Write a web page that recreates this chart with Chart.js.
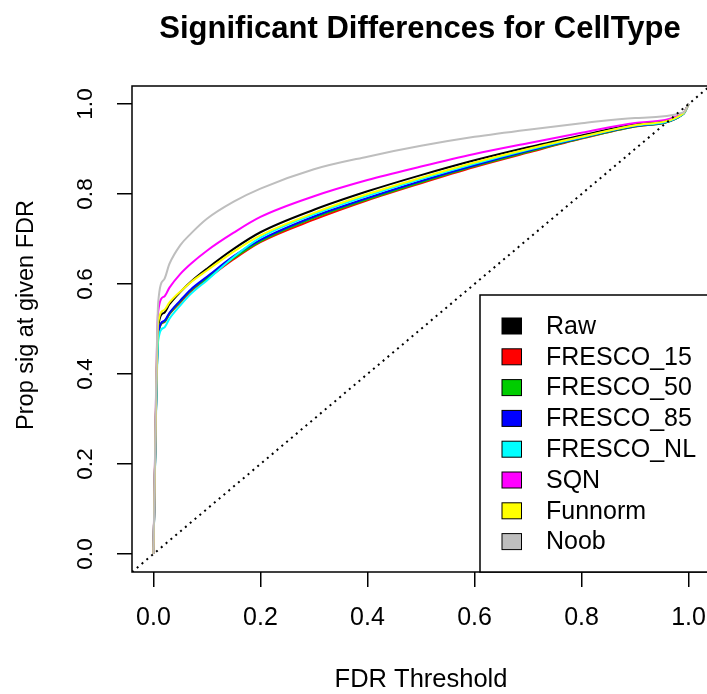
<!DOCTYPE html>
<html>
<head>
<meta charset="utf-8">
<script src="https://cdn.jsdelivr.net/npm/chart.js@4"></script>
<style>
  html, body { margin: 0; padding: 0; background: #fff; overflow: hidden; }
  #wrap { position: relative; width: 710px; height: 694px; }
</style>
</head>
<body>
<div id="wrap"><canvas id="sigChart"></canvas></div>
<script>
// FDR thresholds (x) and proportion significant (y) for each method
const fdrThreshold = [0, 0.009, 0.02, 0.03, 0.05, 0.07, 0.1, 0.15, 0.2, 0.3, 0.4, 0.5, 0.6, 0.7, 0.8, 0.9, 0.99, 1.0];
const raw       = [0, 0.505, 0.536, 0.555, 0.582, 0.605, 0.634, 0.678, 0.715, 0.765, 0.806, 0.842, 0.875, 0.904, 0.930, 0.955, 0.979, 1.0];
const fresco15  = [0, 0.490, 0.515, 0.533, 0.559, 0.584, 0.611, 0.655, 0.693, 0.743, 0.786, 0.824, 0.860, 0.892, 0.923, 0.950, 0.978, 1.0];
const fresco50  = [0, 0.490, 0.516, 0.534, 0.561, 0.586, 0.613, 0.658, 0.695, 0.747, 0.788, 0.826, 0.862, 0.894, 0.924, 0.950, 0.978, 1.0];
const fresco85  = [0, 0.490, 0.518, 0.536, 0.563, 0.588, 0.616, 0.662, 0.698, 0.750, 0.791, 0.829, 0.864, 0.896, 0.925, 0.951, 0.978, 1.0];
const frescoNL  = [0, 0.475, 0.503, 0.523, 0.552, 0.578, 0.608, 0.660, 0.703, 0.755, 0.796, 0.833, 0.867, 0.898, 0.926, 0.952, 0.978, 1.0];
const sqn       = [0, 0.540, 0.572, 0.592, 0.622, 0.645, 0.674, 0.714, 0.749, 0.795, 0.831, 0.861, 0.889, 0.913, 0.936, 0.958, 0.980, 1.0];
const funnorm   = [0, 0.515, 0.542, 0.559, 0.583, 0.604, 0.630, 0.672, 0.708, 0.758, 0.800, 0.836, 0.870, 0.900, 0.927, 0.953, 0.979, 1.0];
const noob      = [0, 0.560, 0.610, 0.645, 0.686, 0.712, 0.745, 0.783, 0.812, 0.855, 0.883, 0.907, 0.927, 0.943, 0.957, 0.969, 0.981, 1.0];

const methodNames  = ['Raw', 'FRESCO_15', 'FRESCO_50', 'FRESCO_85', 'FRESCO_NL', 'SQN', 'Funnorm', 'Noob'];
const methodColors = ['#000000', '#FF0000', '#00CD00', '#0000FF', '#00FFFF', '#FF00FF', '#FFFF00', '#BEBEBE'];
const methodValues = [raw, fresco15, fresco50, fresco85, frescoNL, sqn, funnorm, noob];

const xTicks = [0, 0.2, 0.4, 0.6, 0.8, 1.0];
const yTicks = [0, 0.2, 0.4, 0.6, 0.8, 1.0];
const axisRange = [-0.04, 1.04];

const chartTitle = 'Significant Differences for CellType';
const xTitle = 'FDR Threshold';
const yTitle = 'Prop sig at given FDR';

const FONT = '"Liberation Sans", Arial, Helvetica, sans-serif';
Chart.defaults.font.family = FONT;
Chart.defaults.color = '#000';

const datasets = methodNames.map((name, i) => ({
    label: name,
    data: fdrThreshold.map((x, j) => ({ x: x, y: methodValues[i][j] })),
    borderColor: methodColors[i],
    backgroundColor: methodColors[i],
    borderWidth: 2,
    pointRadius: 0,
    fill: false,
    cubicInterpolationMode: 'monotone',
    order: methodNames.length - i
}));

// y = x reference line
datasets.push({
    label: 'diagonal',
    data: [{ x: axisRange[0], y: axisRange[0] }, { x: axisRange[1], y: axisRange[1] }],
    borderColor: '#000',
    borderWidth: 2,
    borderDash: [2, 4.3],
    pointRadius: 0,
    fill: false,
    order: 0
});

const rPlotDecor = {
    id: 'rPlotDecor',
    afterDatasetsDraw(chart) {
        const { ctx, chartArea: a } = chart;
        ctx.save();
        ctx.strokeStyle = '#000';
        ctx.lineWidth = 1.5;
        ctx.strokeRect(a.left, a.top, a.right - a.left, a.bottom - a.top);
        ctx.restore();
    },
    afterDraw(chart) {
        const { ctx, chartArea: a, scales } = chart;
        const cx = (a.left + a.right) / 2;
        ctx.save();
        ctx.fillStyle = '#000';
        ctx.textAlign = 'center';
        ctx.textBaseline = 'middle';

        // title
        ctx.font = 'bold 31px ' + FONT;
        ctx.fillText(chartTitle, 420, 29);

        // x title
        ctx.font = '25.5px ' + FONT;
        ctx.fillText(xTitle, 421, 680);

        // y title
        ctx.save();
        ctx.font = '23.5px ' + FONT;
        ctx.translate(27, 315);
        ctx.rotate(-Math.PI / 2);
        ctx.fillText(yTitle, 0, 0);
        ctx.restore();

        // y tick labels (rotated, as in R)
        ctx.font = '22.5px ' + FONT;
        scales.y.ticks.forEach(t => {
            ctx.save();
            ctx.translate(86, scales.y.getPixelForValue(t.value));
            ctx.rotate(-Math.PI / 2);
            ctx.fillText(t.value.toFixed(1), 0, 0);
            ctx.restore();
        });

        // legend, bottom right
        const lx = 480, ly = 295;
        ctx.fillStyle = '#fff';
        ctx.fillRect(lx, ly, a.right - lx, a.bottom - ly);
        ctx.strokeStyle = '#000';
        ctx.lineWidth = 1.5;
        ctx.strokeRect(lx, ly, a.right - lx, a.bottom - ly);
        ctx.textAlign = 'left';
        ctx.font = '25px ' + FONT;
        methodNames.forEach((name, i) => {
            const yc = 326 + i * 30.8;
            ctx.fillStyle = methodColors[i];
            ctx.fillRect(502, yc - 8, 19.5, 16);
            ctx.lineWidth = 1;
            ctx.strokeStyle = '#000';
            ctx.strokeRect(502, yc - 8, 19.5, 16);
            ctx.fillStyle = '#000';
            ctx.fillText(name, 546, yc + 1);
        });
        ctx.restore();
    }
};

new Chart(document.getElementById('sigChart').getContext('2d'), {
    type: 'line',
    data: { datasets: datasets },
    options: {
        responsive: true,
        maintainAspectRatio: false,
        animation: false,
        layout: { autoPadding: false, padding: { top: 86, right: 0, left: 0, bottom: 0 } },
        plugins: {
            legend: { display: false },
            tooltip: { enabled: false },
            title: { display: false }
        },
        scales: {
            x: {
                type: 'linear',
                min: axisRange[0],
                max: axisRange[1],
                afterBuildTicks: s => { s.ticks = xTicks.map(v => ({ value: v })); },
                afterFit: s => { s.height = 122; s.paddingLeft = 0; s.paddingRight = 0; },
                border: { display: false },
                grid: { drawOnChartArea: false, drawTicks: true, tickLength: 15, color: '#000', lineWidth: 1.5 },
                ticks: {
                    padding: 16,
                    maxRotation: 0,
                    font: { size: 25 },
                    color: '#000',
                    callback: v => Number(v).toFixed(1)
                }
            },
            y: {
                type: 'linear',
                min: axisRange[0],
                max: axisRange[1],
                afterBuildTicks: s => { s.ticks = yTicks.map(v => ({ value: v })); },
                afterFit: s => { s.width = 132; },
                border: { display: false },
                grid: { drawOnChartArea: false, drawTicks: true, tickLength: 15, color: '#000', lineWidth: 1.5 },
                ticks: { display: false }
            }
        }
    },
    plugins: [rPlotDecor]
});
</script>
</body>
</html>
